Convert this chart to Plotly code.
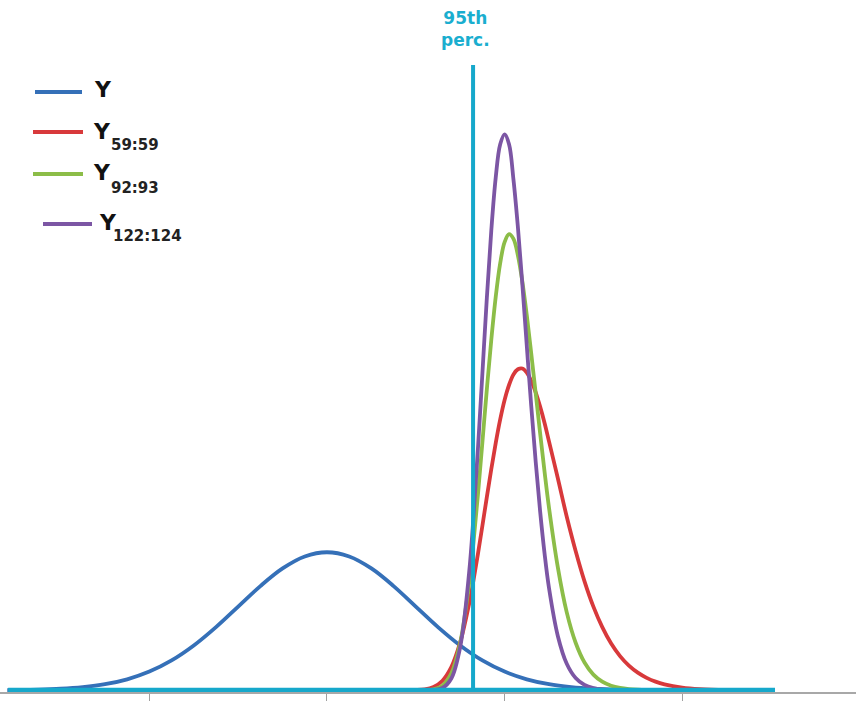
import plotly.graph_objects as go

# ---- data (x in standard-deviation units, y = density) ----
names = ["Y", "Y59:59", "Y92:93", "Y122:124"]
sub_labels = ["", "59:59", "92:93", "122:124"]
colors = ["#3570b8", "#d8393b", "#8cbd48", "#7c56a4"]

x_blue = [-3.6, -3.5, -3.25, -3.0, -2.75, -2.5, -2.25, -2.0, -1.75, -1.5, -1.25, -1.0,
          -0.75, -0.5, -0.25, 0.0, 0.25, 0.5, 0.75, 1.0, 1.25, 1.5, 1.75, 2.0, 2.25,
          2.5, 2.75, 3.0, 3.25, 3.5, 3.75, 4.0, 4.5, 5.0]
y_blue = [0.0006, 0.0009, 0.002, 0.0044, 0.0091, 0.0175, 0.0317, 0.054, 0.0863, 0.1295,
          0.1826, 0.242, 0.3011, 0.3521, 0.3867, 0.3989, 0.3867, 0.3521, 0.3011, 0.242,
          0.1826, 0.1295, 0.0863, 0.054, 0.0317, 0.0175, 0.0091, 0.0044, 0.002, 0.0009,
          0.0004, 0.0001, 0.0, 0.0]

x_ord = [0.8, 0.9, 1.0, 1.1, 1.2, 1.3, 1.4, 1.5, 1.6, 1.65, 1.7, 1.75, 1.8, 1.85, 1.9,
         1.95, 2.0, 2.05, 2.1, 2.15, 2.2, 2.25, 2.3, 2.35, 2.4, 2.45, 2.5, 2.6, 2.7, 2.8,
         2.9, 3.0, 3.1, 3.2, 3.3, 3.4, 3.5, 3.6, 3.7, 3.8, 4.0, 4.2, 4.5, 5.0]
y_red = [0.0, 0.0001, 0.0006, 0.0027, 0.0096, 0.0276, 0.0668, 0.1384, 0.2489, 0.3183,
         0.3942, 0.4754, 0.5583, 0.6386, 0.7142, 0.7819, 0.8388, 0.8823, 0.9128, 0.9278,
         0.930, 0.9178, 0.8937, 0.861, 0.8198, 0.7726, 0.7194, 0.612, 0.5016, 0.4027,
         0.3149, 0.2417, 0.1824, 0.1349, 0.0987, 0.0712, 0.0508, 0.0358, 0.0249, 0.0172,
         0.0079, 0.0035, 0.0009, 0.0]
y_green = [0.0, 0.0, 0.0, 0.0004, 0.0028, 0.0134, 0.0486, 0.1369, 0.308, 0.4282, 0.5657,
           0.7169, 0.8692, 1.0122, 1.1366, 1.2335, 1.295, 1.318, 1.3045, 1.2565, 1.1809,
           1.0836, 0.9731, 0.8588, 0.7429, 0.6313, 0.5275, 0.3545, 0.225, 0.1374, 0.0803,
           0.0453, 0.0248, 0.0131, 0.0068, 0.0034, 0.0017, 0.0008, 0.0004, 0.0002, 0.0,
           0.0, 0.0, 0.0]
y_purple = [0.0, 0.0, 0.0, 0.0001, 0.0009, 0.0067, 0.0341, 0.125, 0.3384, 0.5022, 0.6988,
            0.9155, 1.1335, 1.3277, 1.4812, 1.5771, 1.6065, 1.578, 1.4754, 1.3377, 1.1728,
            0.9953, 0.8211, 0.6608, 0.5174, 0.3954, 0.2955, 0.1562, 0.0765, 0.0354, 0.0154,
            0.0064, 0.0025, 0.001, 0.0004, 0.0001, 0.0, 0.0, 0.0, 0.0, 0.0, 0.0, 0.0, 0.0]

perc95 = 1.645
perc_label = "95th<br>perc."
x_ticks = [-2, 0, 2, 4]
baseline_span = [-3.59, 5.045]
vline_top = 1.807

series = [(x_blue, y_blue), (x_ord, y_red), (x_ord, y_green), (x_ord, y_purple)]

fig = go.Figure()
for (xs, ys), nm, col in zip(series, names, colors):
    fig.add_trace(go.Scatter(x=xs, y=ys, mode="lines", name=nm,
                             line=dict(color=col, width=3.8, shape="spline", smoothing=1.0),
                             showlegend=False, hoverinfo="skip"))

cyan = "#16a8cb"
# baseline and 95th percentile line (drawn above curves)
fig.add_shape(type="line", x0=baseline_span[0], x1=baseline_span[1], y0=0, y1=0,
              xref="x", yref="y", line=dict(color=cyan, width=5), layer="above")
fig.add_shape(type="line", x0=perc95, x1=perc95, y0=0, y1=vline_top,
              xref="x", yref="y", line=dict(color=cyan, width=4), layer="above")

fig.add_annotation(x=perc95 - 0.08, y=1.978, xref="x", yref="y", text="<b>" + perc_label + "</b>",
                   showarrow=False, xanchor="center", yanchor="top", align="center",
                   font=dict(family="DejaVu Sans", size=17, color="#1aaecf"))

# manual legend (pixel positions converted to paper coordinates)
W, H = 856.0, 692.0
leg_line = [(35, 82, 92), (33, 83, 132), (33, 83, 174), (43, 92, 224)]
leg_Y = [(92, 89), (91, 131), (91, 172), (97, 222)]
leg_sub = [None, (109, 145), (109, 188), (111, 236)]
for i in range(4):
    x0, x1, yy = leg_line[i]
    fig.add_shape(type="line", xref="paper", yref="paper", x0=x0 / W, x1=x1 / W,
                  y0=(H - yy) / H, y1=(H - yy) / H, line=dict(color=colors[i], width=4))
    yx, yy2 = leg_Y[i]
    fig.add_annotation(xref="paper", yref="paper", x=yx / W, y=(H - yy2) / H, text="<b>Y</b>",
                       showarrow=False, xanchor="left", yanchor="middle",
                       font=dict(family="DejaVu Sans", size=22, color="#111111"))
    if leg_sub[i]:
        sx, sy = leg_sub[i]
        fig.add_annotation(xref="paper", yref="paper", x=sx / W, y=(H - sy) / H,
                           text="<b>" + sub_labels[i] + "</b>",
                           showarrow=False, xanchor="left", yanchor="middle",
                           font=dict(family="DejaVu Sans", size=15, color="#222222"))

fig.update_layout(
    width=856, height=716,
    margin=dict(l=0, r=0, t=0, b=24),
    plot_bgcolor="white", paper_bgcolor="white",
    xaxis=dict(range=[-3.682, 5.957], showgrid=False, zeroline=False, showline=True,
               linecolor="#a8a8a8", linewidth=1.5, ticks="outside", ticklen=7,
               tickcolor="#a0a0a0", tickwidth=1, tickvals=x_ticks, showticklabels=False,
               fixedrange=True),
    yaxis=dict(range=[-0.005, 1.995], showgrid=False, zeroline=False, showline=False,
               showticklabels=False, ticks="", fixedrange=True),
)

fig.write_html("out.html")
